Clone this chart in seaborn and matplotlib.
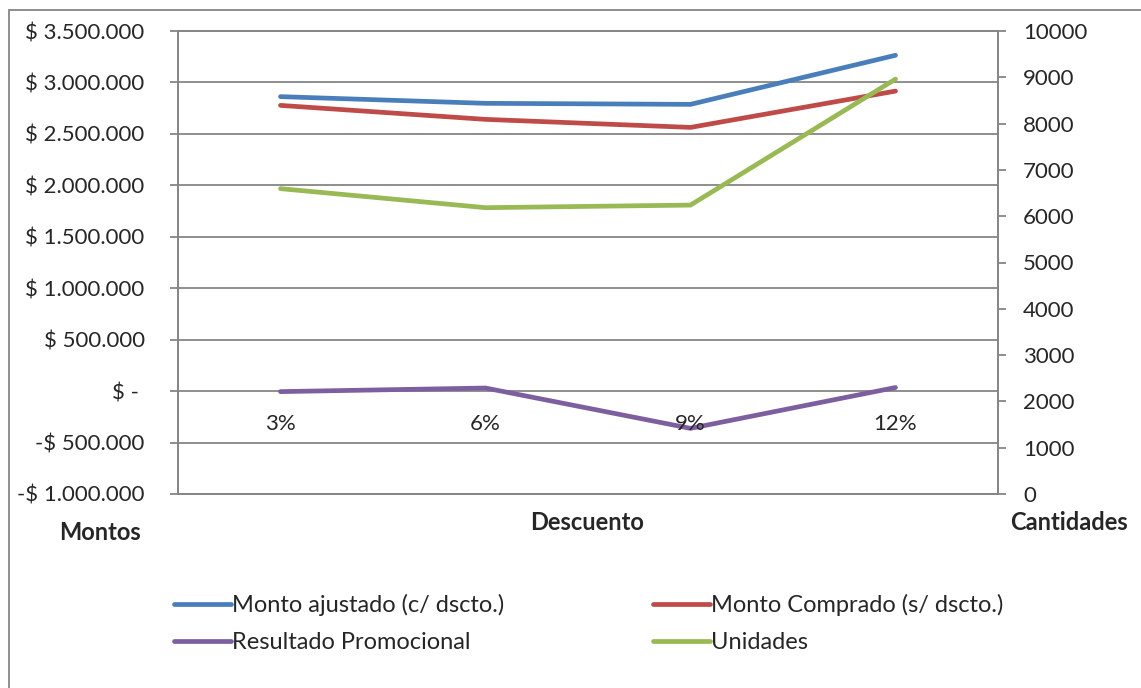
import matplotlib
matplotlib.use("Agg")
import matplotlib.pyplot as plt
import matplotlib.ticker as mticker
import matplotlib.transforms as mtransforms
from matplotlib.lines import Line2D
from matplotlib.patches import Rectangle
import pandas as pd
import seaborn as sns

# datos
descuentos = ["3%", "6%", "9%", "12%"]
monto_ajustado = [2862000, 2797000, 2787000, 3264000]
monto_comprado = [2777000, 2641000, 2563000, 2916000]
resultado_promocional = [-5000, 30000, -362000, 35000]
unidades = [6595, 6184, 6240, 8961]

series_montos = {
    "Monto ajustado (c/ dscto.)": monto_ajustado,
    "Monto Comprado (s/ dscto.)": monto_comprado,
    "Resultado Promocional": resultado_promocional,
}
colores = {
    "Monto ajustado (c/ dscto.)": "#4A7EBB",
    "Monto Comprado (s/ dscto.)": "#BE4B48",
    "Resultado Promocional": "#7D5FA0",
    "Unidades": "#98B954",
}

df = pd.concat(
    [pd.DataFrame({"descuento": descuentos, "monto": v, "serie": k})
     for k, v in series_montos.items()],
    ignore_index=True,
)
df_u = pd.DataFrame({"descuento": descuentos, "unidades": unidades})

sns.set_theme(style="white")
plt.rcParams["font.family"] = ["Lato", "DejaVu Sans"]
gris = "#868686"
fs = 16

fig = plt.figure(figsize=(11.41, 6.88), dpi=100)
ax = fig.add_axes([178 / 1141, 1 - 494 / 688, 820 / 1141, 463 / 688])

sns.lineplot(data=df, x="descuento", y="monto", hue="serie", palette=colores,
             sort=False, linewidth=3.4, ax=ax, legend=False)
ax2 = ax.twinx()
sns.lineplot(data=df_u, x="descuento", y="unidades", color=colores["Unidades"],
             sort=False, linewidth=3.4, ax=ax2, legend=False)

ax.set_xlim(-0.5, 3.5)
ax.set_ylim(-1000000, 3500000)
ax.yaxis.set_major_locator(mticker.MultipleLocator(500000))
ax2.set_ylim(0, 10000)
ax2.yaxis.set_major_locator(mticker.MultipleLocator(1000))


def fmt_pesos(v, pos):
    if abs(v) < 1:
        return "$ - "
    s = f"{abs(v):,.0f}".replace(",", ".")
    return f"-$ {s}" if v < 0 else f"$ {s}"


ax.yaxis.set_major_formatter(mticker.FuncFormatter(fmt_pesos))
ax.grid(axis="y", color=gris, linewidth=1.3)
ax.grid(axis="x", visible=False)
ax.set_axisbelow(True)

for a in (ax, ax2):
    for sp in a.spines.values():
        sp.set_color(gris)
        sp.set_linewidth(1.3)
    a.set_xlabel("")
    a.set_ylabel("")

ax.tick_params(axis="y", which="major", left=True, length=6, width=1.3,
               color=gris, labelsize=fs, pad=18)
ax2.tick_params(axis="y", which="major", right=True, length=6, width=1.3,
                color=gris, labelsize=fs, pad=12)
ax.tick_params(axis="x", bottom=False, labelbottom=False)
ax2.tick_params(axis="x", bottom=False, labelbottom=False)

# etiquetas de categoria junto a la linea del cero
trans = mtransforms.blended_transform_factory(ax.transData, ax.transData)
off = mtransforms.ScaledTranslation(0, -24 / 72, fig.dpi_scale_trans)
for i, d in enumerate(descuentos):
    ax.text(i, 0, d, transform=trans + off, ha="center", va="center",
            fontsize=fs)

fig.text(100 / 1141, 1 - 532 / 688, "Montos", ha="center", va="center",
         fontsize=17, fontweight="bold")
fig.text(587 / 1141, 1 - 523 / 688, "Descuento", ha="center", va="center",
         fontsize=17, fontweight="bold")
fig.text(1069 / 1141, 1 - 523 / 688, "Cantidades", ha="center", va="center",
         fontsize=17, fontweight="bold")

orden = ["Monto ajustado (c/ dscto.)", "Resultado Promocional",
         "Monto Comprado (s/ dscto.)", "Unidades"]
handles = [Line2D([], [], color=colores[k], linewidth=3.4) for k in orden]
fig.legend(handles, orden, ncol=2, frameon=False, fontsize=17,
           loc="upper left", bbox_to_anchor=(153 / 1141, 1 - 573 / 688),
           handlelength=2.4, handletextpad=0.05, columnspacing=6.3,
           labelspacing=0.66)

# borde del area del grafico
fig.patches.append(Rectangle((9 / 1141, -0.05), 1.2, 1 - 10 / 688 + 0.05,
                             transform=fig.transFigure, fill=False,
                             edgecolor=gris, linewidth=1.3))

fig.savefig("out.png", dpi=100)
